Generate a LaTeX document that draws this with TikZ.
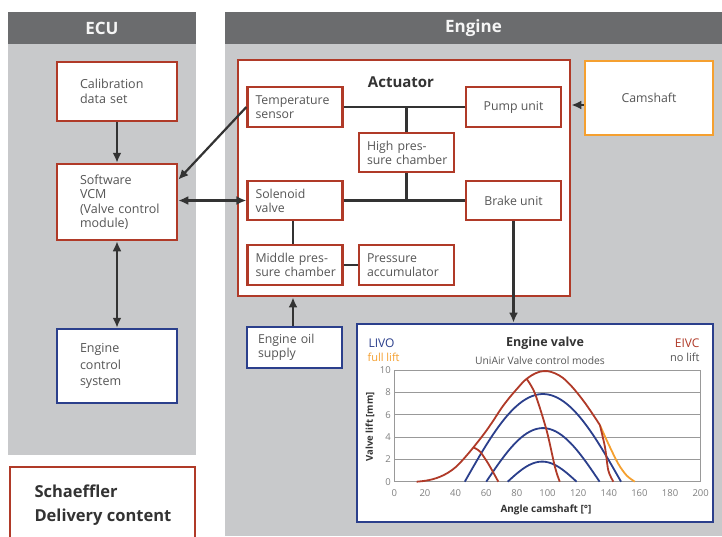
\documentclass[tikz,border=0pt]{standalone}
\usepackage{fontspec}
\setmainfont{Open Sans}
\usetikzlibrary{arrows.meta}
\definecolor{schred}{HTML}{B03A28}
\definecolor{schblue}{HTML}{2B3F8C}
\definecolor{schorange}{HTML}{F5A030}
\definecolor{hdrgray}{HTML}{6B6C6E}
\definecolor{panelgray}{HTML}{C8C9CB}
\definecolor{txtgray}{HTML}{555555}
\definecolor{linkgray}{HTML}{333333}
\newcommand{\boxfont}{\fontsize{12.5}{14.5}\selectfont}
\newcommand{\chartfont}{\fontsize{9.5}{11}\selectfont}
\hyphenpenalty=10000

\tikzset{
  header/.style={fill=hdrgray,text=white!92!gray,inner sep=0pt,
    minimum height=32pt,font=\bfseries\fontsize{17}{19}\selectfont},
  ecubox/.style={draw=schred,line width=2.5pt,fill=white,text=txtgray,
    align=left,text width=74pt,inner xsep=23pt,inner ysep=2pt,font=\boxfont},
  actbox/.style={draw=schred,line width=2.2pt,fill=white,text=txtgray,
    minimum width=95pt,minimum height=39pt,align=center,
    font=\fontsize{12.3}{13.8}\selectfont},
  lefttext/.style={align=left,text width=79pt,inner xsep=8pt},
  link/.style={draw=linkgray,line width=2.2pt},
  grid line/.style={draw=gray!80,line width=1pt},
  curve/.style={line width=1.8pt,smooth}
}

\begin{document}
\begin{tikzpicture}[x=1pt,y=-1pt,>={Latex[length=10pt,width=9pt]}]
  \useasboundingbox (0,0) rectangle (722,536);
  \fill[white] (0,0) rectangle (722,536);
  % panels
  \fill[panelgray] (8,44) rectangle (196,455);
  \fill[panelgray] (225,44) rectangle (722,536);
  \node[header,minimum width=188pt] (ECU) at (102,28) {ECU};
  \node[header,minimum width=497pt] (ENG) at (473.5,28) {Engine};

  % ECU side
  \node[ecubox,minimum height=59pt] (CAL) at (117,91.5) {Calibration\\data~set};
  \node[ecubox,minimum height=76pt] (VCM) at (117,202) {Software\\VCM\\(Valve~control\\module)};
  \node[ecubox,draw=schblue,minimum height=74pt,font=\fontsize{12.5}{16.5}\selectfont] (ECS) at (117,366) {Engine\\control\\system};
  \node[draw=schred,line width=2.5pt,fill=white,minimum width=185pt,minimum height=80pt] (DEL) at (102.5,507) {};
  \node[anchor=west,align=left,text=linkgray,font=\bfseries\fontsize{16.5}{24}\selectfont] (DELT) at (31,505) {Schaeffler\\Delivery content};

  % actuator
  \node[draw=schred,line width=2.8pt,fill=white,minimum width=332pt,minimum height=236pt] (ACT) at (404,178) {};
  \node[text=linkgray,font=\bfseries\fontsize{15}{17}\selectfont] (ACTT) at (401,82) {Actuator};
  \node[actbox,lefttext,minimum height=40pt] (TS) at (295,107) {Temperature\\sensor};
  \node[actbox,minimum height=40pt] (PU) at (513.5,107) {Pump unit};
  \node[actbox,lefttext] (HPC) at (406.5,152.5) {High~pres-\\sure~chamber};
  \node[actbox,lefttext] (SV) at (295,200.5) {Solenoid\\valve};
  \node[actbox] (BU) at (513.5,200.5) {Brake unit};
  \node[actbox,lefttext,minimum height=40pt] (MPC) at (295,265) {Middle~pres-\\sure~chamber};
  \node[actbox,lefttext,minimum height=40pt] (PA) at (406.5,265) {Pressure\\accumulator};
  \draw[link] (TS) -- (PU);
  \draw[link] (HPC.north) -- (HPC.north |- TS.east);
  \draw[link] (SV) -- (BU);
  \draw[link] (HPC.south) -- (HPC.south |- SV.east);
  \draw[link] (MPC.north -| 293,0) -- (SV.south -| 293,0);
  \draw[link] (MPC) -- (PA);

  % engine side
  \node[actbox,draw=schorange,minimum width=128pt,minimum height=74pt] (CAM) at (649,98) {Camshaft};
  \node[actbox,draw=schblue,align=left,text width=73pt,inner xsep=11pt,minimum height=41pt] (OIL) at (294.5,347.5) {Engine~oil\\supply};
  \node[draw=schblue,line width=2.8pt,fill=white,minimum width=356pt,minimum height=198pt] (EV) at (535,423) {};

  % connectors
  \draw[link,->] (CAL) -- (VCM);
  \draw[link,<->] (VCM) -- (ECS);
  \draw[link,->] (TS.west) -- (VCM.20);
  \draw[link,<->] (SV.west -| VCM.east) -- (SV.west);
  \draw[link,->] (CAM.west |- 0,105) -- (ACT.east |- 0,105);
  \draw[link,->] (OIL.north -| 293,0) -- (ACT.south -| 293,0);
  \draw[link,->] (BU.south) -- (BU.south |- EV.north);

  % engine valve chart
  \node[anchor=west,text=schblue,font=\fontsize{12}{13}\selectfont] (LIVO) at (365,343) {LIVO};
  \node[anchor=west,text=schorange,font=\fontsize{11}{12}\selectfont] (FL) at (364,357) {full lift};
  \node[text=linkgray,font=\bfseries\fontsize{12.5}{14}\selectfont] (EVT) at (545,343) {Engine valve};
  \node[text=txtgray,font=\fontsize{10.3}{12}\selectfont] (EVS) at (540,360.5) {UniAir Valve control modes};
  \node[anchor=east,text=schred,font=\fontsize{12}{13}\selectfont] (EIVC) at (703,343) {EIVC};
  \node[anchor=east,text=txtgray,font=\fontsize{11}{12}\selectfont] (NL) at (703,357.5) {no lift};
  \node[rotate=90,text=linkgray,font=\bfseries\fontsize{9.5}{11}\selectfont] (YL) at (370,427) {Valve lift [mm]};
  \node[text=linkgray,font=\bfseries\fontsize{10}{12}\selectfont] (XL) at (546,510) {Angle camshaft [°]};
  \begin{scope}[shift={(394.3,481.7)},x=1.532pt,y=11.17pt]
    \foreach \v in {0,2,...,10} {
      \draw[grid line] (0,\v) -- (200,\v);
      \node[anchor=east,text=gray,font=\chartfont,inner sep=1pt] at (-1.5,\v) {\v};
    }
    \draw[grid line] (0,0) -- (0,10);
    \draw[grid line] (200,0) -- (200,10);
    \foreach \a in {0,20,...,200}
      \node[text=gray,font=\chartfont] at (\a,-1.05) {\a};
    % LIVO modes
    \draw[schblue,curve] plot[domain=46:148,samples=50] (\x,{7.85*sin((\x-46)/102*180)});
    \draw[schblue,curve] plot[domain=60:134,samples=40] (\x,{4.8*sin((\x-60)/74*180)});
    \draw[schblue,curve] plot[domain=74:119,samples=30] (\x,{1.8*sin((\x-74)/45*180)});
    % full lift and EIVC modes
    \draw[schorange,curve] plot coordinates {(134.2,5.07) (139.7,3.4) (146.2,1.6) (151.7,0.55) (157,0)};
    \draw[schred,curve] plot coordinates {(14.6,0) (20,0.08) (25,0.22) (30,0.45) (35,0.8)
      (40,1.3) (45,2.0) (50,2.8) (55,3.65) (60,4.55) (65,5.55) (70,6.6) (75,7.5) (80,8.3)
      (85,9.05) (90,9.55) (95,9.85) (100,9.9) (105,9.7) (110,9.3) (115,8.65) (120,7.85)
      (125,6.95) (130,5.95) (134.2,5.07)};
    \draw[schred,curve] plot coordinates {(134.2,5.07) (137.5,3.1) (139.7,1.0) (143,0)};
    \draw[schred,curve] plot coordinates {(51.6,3.07) (55.9,2.7) (61.4,1.6) (67.9,0)};
    \draw[schred,curve] plot coordinates {(86.4,9.2) (91.8,7.9) (99.4,4.6) (104.9,1.3) (108,0)};
  \end{scope}
\end{tikzpicture}
\end{document}
